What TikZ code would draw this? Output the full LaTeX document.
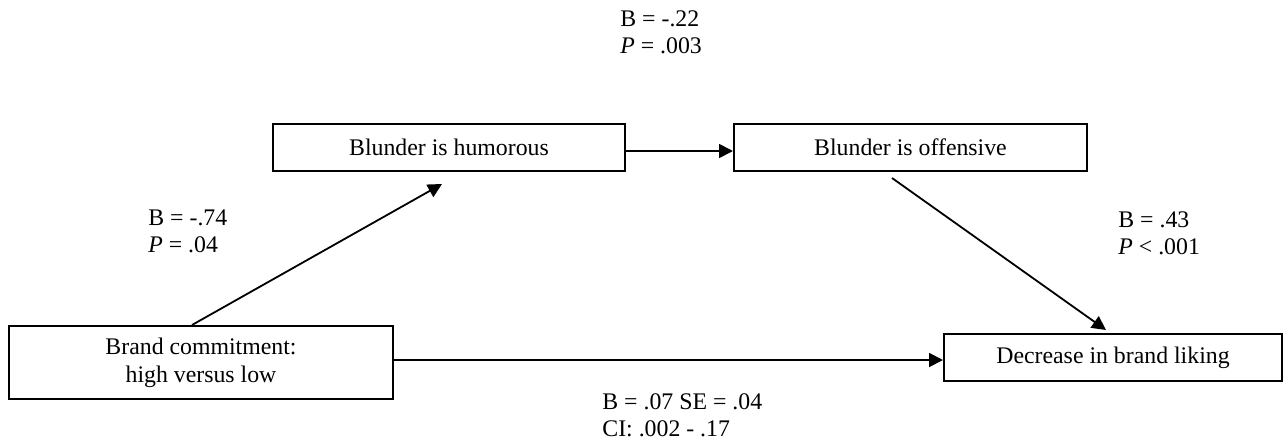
\documentclass[tikz,border=0pt]{standalone}
\usepackage{fontspec}
\setmainfont{Liberation Serif}
\usetikzlibrary{arrows.meta}
\begin{document}
\begin{tikzpicture}[x=0.5pt,y=-0.5pt,
  every node/.style={font=\fontsize{11.9}{13.5}\selectfont},
  box/.style={draw,line width=1pt,inner sep=0pt,minimum height=23.5pt,align=center},
  conn/.style={line width=0.9pt,-{Triangle[length=7pt,width=7pt]}},
  lab/.style={anchor=north west,inner sep=0pt,align=left}]
\useasboundingbox (0,0) rectangle (1285,440);
\node[box,minimum width=176pt] (hum) at (449,147.5) {Blunder is humorous};
\node[box,minimum width=176.5pt] (off) at (910.5,147.5) {Blunder is offensive};
\node[box,minimum width=192pt,minimum height=36.5pt] (brand) at (201,362.5) {Brand commitment:\\[0.5pt]high versus low};
\node[box,minimum width=169pt] (dec) at (1113,357.5) {Decrease in brand liking};
\draw[conn] ([yshift=-1.75pt]hum.east) -- ([yshift=-1.75pt]off.west);
\draw[conn] ([xshift=92pt]brand.north west) -- ([xshift=85pt,yshift=-6pt]hum.south west);
\draw[conn] ([xshift=79.5pt,yshift=-3pt]off.south west) -- ([xshift=81.5pt,yshift=1.5pt]dec.north west);
\draw[conn] ([yshift=1.25pt]brand.east) -- ([yshift=-1.25pt]dec.west);
\node[lab] (l1) at (620,10) {B = -.22\\\textit{P} = .003};
\node[lab] (l2) at (148,209) {B = -.74\\\textit{P} = .04};
\node[lab] (l3) at (1118,211) {B = .43\\\textit{P} < .001};
\node[lab] (l4) at (602,393) {B = .07 SE = .04\\CI: .002 - .17};
\end{tikzpicture}
\end{document}
